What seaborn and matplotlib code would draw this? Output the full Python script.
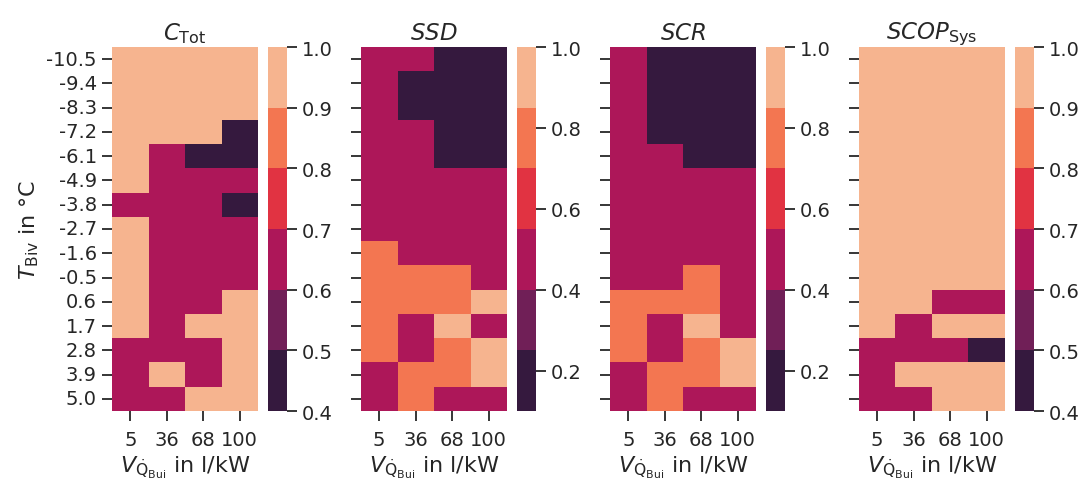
import numpy as np
import pandas as pd
import matplotlib
matplotlib.use("Agg")
import matplotlib.pyplot as plt
import seaborn as sns
from matplotlib.ticker import FormatStrFormatter

sns.set_theme(style="ticks")
plt.rcParams['font.family'] = ['DejaVu Sans']
plt.rcParams['mathtext.fontset'] = 'dejavusans'

# Axis categories
t_biv = ['-10.5', '-9.4', '-8.3', '-7.2', '-6.1', '-4.9', '-3.8', '-2.7',
         '-1.6', '-0.5', '0.6', '1.7', '2.8', '3.9', '5.0']
v_bui = ['5', '36', '68', '100']

# Normalised values (rows: T_Biv, cols: V)
c_tot = [[.95, .95, .95, .95],
         [.95, .95, .95, .95],
         [.95, .95, .95, .95],
         [.95, .95, .95, .45],
         [.95, .65, .45, .45],
         [.95, .65, .65, .65],
         [.65, .65, .65, .45],
         [.95, .65, .65, .65],
         [.95, .65, .65, .65],
         [.95, .65, .65, .65],
         [.95, .65, .65, .95],
         [.95, .65, .95, .95],
         [.65, .65, .65, .95],
         [.65, .95, .65, .95],
         [.65, .65, .95, .95]]

ssd = [[.50, .50, .18, .18],
       [.50, .18, .18, .18],
       [.50, .18, .18, .18],
       [.50, .50, .18, .18],
       [.50, .50, .18, .18],
       [.50, .50, .50, .50],
       [.50, .50, .50, .50],
       [.50, .50, .50, .50],
       [.78, .50, .50, .50],
       [.78, .78, .78, .50],
       [.78, .78, .78, .92],
       [.78, .50, .92, .50],
       [.78, .50, .78, .92],
       [.50, .78, .78, .92],
       [.50, .78, .50, .50]]

scr = [[.50, .18, .18, .18],
       [.50, .18, .18, .18],
       [.50, .18, .18, .18],
       [.50, .18, .18, .18],
       [.50, .50, .18, .18],
       [.50, .50, .50, .50],
       [.50, .50, .50, .50],
       [.50, .50, .50, .50],
       [.50, .50, .50, .50],
       [.50, .50, .78, .50],
       [.78, .78, .78, .50],
       [.78, .50, .92, .50],
       [.78, .50, .78, .92],
       [.50, .78, .78, .92],
       [.50, .78, .50, .50]]

scop_sys = [[.95, .95, .95, .95],
            [.95, .95, .95, .95],
            [.95, .95, .95, .95],
            [.95, .95, .95, .95],
            [.95, .95, .95, .95],
            [.95, .95, .95, .95],
            [.95, .95, .95, .95],
            [.95, .95, .95, .95],
            [.95, .95, .95, .95],
            [.95, .95, .95, .95],
            [.95, .95, .65, .65],
            [.95, .65, .95, .95],
            [.65, .65, .65, .45],
            [.65, .95, .95, .95],
            [.65, .65, .95, .95]]

panels = [
    (r'$C_{\mathrm{Tot}}$', c_tot, 0.4, 1.0, np.arange(0.4, 1.01, 0.1)),
    (r'$SSD$', ssd, 0.1, 1.0, np.arange(0.2, 1.01, 0.2)),
    (r'$SCR$', scr, 0.1, 1.0, np.arange(0.2, 1.01, 0.2)),
    (r'$SCOP_{\mathrm{Sys}}$', scop_sys, 0.4, 1.0, np.arange(0.4, 1.01, 0.1)),
]

cmap = sns.color_palette("rocket", 6)

W, H = 1082, 485
fig = plt.figure(figsize=(W / 100, H / 100), dpi=100)

lefts = [112, 361, 610, 859]
bottom, top = 412, 48

for i, (title, vals, vmin, vmax, ticks) in enumerate(panels):
    x0 = lefts[i]
    ax = fig.add_axes([x0 / W, (H - bottom) / H, 146 / W, (bottom - top) / H])
    cax = fig.add_axes([(x0 + 156) / W, (H - bottom) / H, 18.5 / W, (bottom - top) / H])
    df = pd.DataFrame(vals, index=t_biv, columns=v_bui)
    sns.heatmap(df, ax=ax, cbar_ax=cax, cmap=cmap, vmin=vmin, vmax=vmax,
                cbar_kws={'ticks': ticks})
    cax.yaxis.set_major_formatter(FormatStrFormatter('%.1f'))
    cax.tick_params(labelsize=14, length=7, width=1.3, pad=4)
    ax.set_title(title, fontsize=16.5)
    ax.set_xlabel(r'$V_{\dot{\mathrm{Q}}_{\mathrm{Bui}}}$ in l/kW', fontsize=16,
                  labelpad=3)
    ax.tick_params(labelsize=14, length=7, width=1.3, pad=4)
    ax.tick_params(axis='x', rotation=0, pad=7)
    ax.tick_params(axis='y', rotation=0)
    if i == 0:
        ax.set_ylabel(r'$T_{\mathrm{Biv}}$ in °C', fontsize=16)
    else:
        ax.set_ylabel('')
        ax.tick_params(labelleft=False)

fig.savefig('out.png', dpi=100)
